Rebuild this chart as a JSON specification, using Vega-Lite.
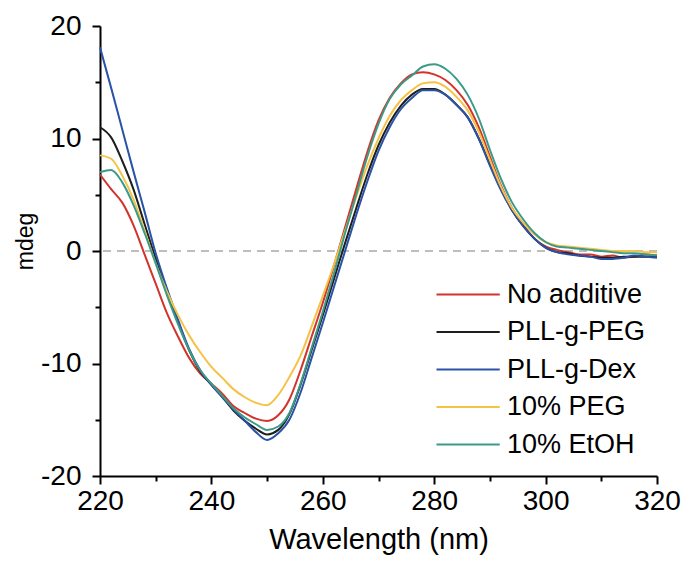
{
  "$schema": "https://vega.github.io/schema/vega-lite/v6.json",
  "width": 557,
  "height": 450,
  "autosize": {"type": "none"},
  "padding": {"left": 100, "top": 26, "right": 29, "bottom": 85},
  "background": "white",
  "config": {
    "view": {"stroke": null},
    "font": "Liberation Sans",
    "axis": {
      "grid": false,
      "domainColor": "black",
      "domainWidth": 2,
      "tickColor": "black",
      "tickWidth": 2,
      "labelFont": "Liberation Sans",
      "labelFontSize": 28,
      "labelColor": "black",
      "labelFlush": false,
      "titleFont": "Liberation Sans",
      "titleFontSize": 29,
      "titleFontWeight": "normal",
      "titleColor": "black"
    }
  },
  "datasets": {
    "cd": [
      {"series":"No additive","nm":220,"mdeg":6.8},{"series":"No additive","nm":222,"mdeg":5.5},{"series":"No additive","nm":224,"mdeg":4.3},{"series":"No additive","nm":226,"mdeg":2.3},{"series":"No additive","nm":228,"mdeg":-0.3},{"series":"No additive","nm":230,"mdeg":-2.9},{"series":"No additive","nm":232,"mdeg":-5.5},{"series":"No additive","nm":234,"mdeg":-7.6},{"series":"No additive","nm":236,"mdeg":-9.5},{"series":"No additive","nm":238,"mdeg":-10.9},{"series":"No additive","nm":240,"mdeg":-11.8},{"series":"No additive","nm":242,"mdeg":-12.7},{"series":"No additive","nm":244,"mdeg":-13.8},{"series":"No additive","nm":246,"mdeg":-14.4},{"series":"No additive","nm":248,"mdeg":-14.9},{"series":"No additive","nm":250,"mdeg":-15.1},{"series":"No additive","nm":252,"mdeg":-14.6},{"series":"No additive","nm":254,"mdeg":-13.2},{"series":"No additive","nm":256,"mdeg":-10.6},{"series":"No additive","nm":258,"mdeg":-7.6},{"series":"No additive","nm":260,"mdeg":-4.6},{"series":"No additive","nm":262,"mdeg":-1.3},{"series":"No additive","nm":264,"mdeg":2.1},{"series":"No additive","nm":266,"mdeg":5.5},{"series":"No additive","nm":268,"mdeg":8.8},{"series":"No additive","nm":270,"mdeg":11.6},{"series":"No additive","nm":272,"mdeg":13.6},{"series":"No additive","nm":274,"mdeg":14.9},{"series":"No additive","nm":276,"mdeg":15.7},{"series":"No additive","nm":278,"mdeg":15.9},{"series":"No additive","nm":280,"mdeg":15.7},{"series":"No additive","nm":282,"mdeg":15.2},{"series":"No additive","nm":284,"mdeg":14.3},{"series":"No additive","nm":286,"mdeg":13.0},{"series":"No additive","nm":288,"mdeg":11.0},{"series":"No additive","nm":290,"mdeg":8.4},{"series":"No additive","nm":292,"mdeg":5.8},{"series":"No additive","nm":294,"mdeg":3.8},{"series":"No additive","nm":296,"mdeg":2.3},{"series":"No additive","nm":298,"mdeg":1.1},{"series":"No additive","nm":300,"mdeg":0.4},{"series":"No additive","nm":302,"mdeg":0.1},{"series":"No additive","nm":304,"mdeg":-0.1},{"series":"No additive","nm":306,"mdeg":-0.3},{"series":"No additive","nm":308,"mdeg":-0.3},{"series":"No additive","nm":310,"mdeg":-0.5},{"series":"No additive","nm":312,"mdeg":-0.4},{"series":"No additive","nm":314,"mdeg":-0.6},{"series":"No additive","nm":316,"mdeg":-0.5},{"series":"No additive","nm":318,"mdeg":-0.3},{"series":"No additive","nm":320,"mdeg":-0.4},
      {"series":"PLL-g-PEG","nm":220,"mdeg":11.0},{"series":"PLL-g-PEG","nm":222,"mdeg":10.1},{"series":"PLL-g-PEG","nm":224,"mdeg":8.0},{"series":"PLL-g-PEG","nm":226,"mdeg":5.5},{"series":"PLL-g-PEG","nm":228,"mdeg":2.4},{"series":"PLL-g-PEG","nm":230,"mdeg":-0.7},{"series":"PLL-g-PEG","nm":232,"mdeg":-3.6},{"series":"PLL-g-PEG","nm":234,"mdeg":-6.3},{"series":"PLL-g-PEG","nm":236,"mdeg":-8.8},{"series":"PLL-g-PEG","nm":238,"mdeg":-10.7},{"series":"PLL-g-PEG","nm":240,"mdeg":-11.9},{"series":"PLL-g-PEG","nm":242,"mdeg":-13.0},{"series":"PLL-g-PEG","nm":244,"mdeg":-14.2},{"series":"PLL-g-PEG","nm":246,"mdeg":-15.1},{"series":"PLL-g-PEG","nm":248,"mdeg":-15.8},{"series":"PLL-g-PEG","nm":250,"mdeg":-16.3},{"series":"PLL-g-PEG","nm":252,"mdeg":-15.9},{"series":"PLL-g-PEG","nm":254,"mdeg":-14.5},{"series":"PLL-g-PEG","nm":256,"mdeg":-11.9},{"series":"PLL-g-PEG","nm":258,"mdeg":-8.8},{"series":"PLL-g-PEG","nm":260,"mdeg":-5.7},{"series":"PLL-g-PEG","nm":262,"mdeg":-2.5},{"series":"PLL-g-PEG","nm":264,"mdeg":0.7},{"series":"PLL-g-PEG","nm":266,"mdeg":3.8},{"series":"PLL-g-PEG","nm":268,"mdeg":6.8},{"series":"PLL-g-PEG","nm":270,"mdeg":9.4},{"series":"PLL-g-PEG","nm":272,"mdeg":11.4},{"series":"PLL-g-PEG","nm":274,"mdeg":12.9},{"series":"PLL-g-PEG","nm":276,"mdeg":13.9},{"series":"PLL-g-PEG","nm":278,"mdeg":14.4},{"series":"PLL-g-PEG","nm":280,"mdeg":14.4},{"series":"PLL-g-PEG","nm":282,"mdeg":13.9},{"series":"PLL-g-PEG","nm":284,"mdeg":13.0},{"series":"PLL-g-PEG","nm":286,"mdeg":11.9},{"series":"PLL-g-PEG","nm":288,"mdeg":10.0},{"series":"PLL-g-PEG","nm":290,"mdeg":7.7},{"series":"PLL-g-PEG","nm":292,"mdeg":5.5},{"series":"PLL-g-PEG","nm":294,"mdeg":3.6},{"series":"PLL-g-PEG","nm":296,"mdeg":2.2},{"series":"PLL-g-PEG","nm":298,"mdeg":1.1},{"series":"PLL-g-PEG","nm":300,"mdeg":0.3},{"series":"PLL-g-PEG","nm":302,"mdeg":-0.1},{"series":"PLL-g-PEG","nm":304,"mdeg":-0.2},{"series":"PLL-g-PEG","nm":306,"mdeg":-0.4},{"series":"PLL-g-PEG","nm":308,"mdeg":-0.5},{"series":"PLL-g-PEG","nm":310,"mdeg":-0.6},{"series":"PLL-g-PEG","nm":312,"mdeg":-0.6},{"series":"PLL-g-PEG","nm":314,"mdeg":-0.5},{"series":"PLL-g-PEG","nm":316,"mdeg":-0.5},{"series":"PLL-g-PEG","nm":318,"mdeg":-0.5},{"series":"PLL-g-PEG","nm":320,"mdeg":-0.5},
      {"series":"PLL-g-Dex","nm":220,"mdeg":18.1},{"series":"PLL-g-Dex","nm":222,"mdeg":14.5},{"series":"PLL-g-Dex","nm":224,"mdeg":10.8},{"series":"PLL-g-Dex","nm":226,"mdeg":7.1},{"series":"PLL-g-Dex","nm":228,"mdeg":3.5},{"series":"PLL-g-Dex","nm":230,"mdeg":-0.2},{"series":"PLL-g-Dex","nm":232,"mdeg":-3.3},{"series":"PLL-g-Dex","nm":234,"mdeg":-6.1},{"series":"PLL-g-Dex","nm":236,"mdeg":-8.7},{"series":"PLL-g-Dex","nm":238,"mdeg":-10.6},{"series":"PLL-g-Dex","nm":240,"mdeg":-11.9},{"series":"PLL-g-Dex","nm":242,"mdeg":-13.0},{"series":"PLL-g-Dex","nm":244,"mdeg":-14.1},{"series":"PLL-g-Dex","nm":246,"mdeg":-15.1},{"series":"PLL-g-Dex","nm":248,"mdeg":-16.1},{"series":"PLL-g-Dex","nm":250,"mdeg":-16.8},{"series":"PLL-g-Dex","nm":252,"mdeg":-16.2},{"series":"PLL-g-Dex","nm":254,"mdeg":-15.0},{"series":"PLL-g-Dex","nm":256,"mdeg":-12.6},{"series":"PLL-g-Dex","nm":258,"mdeg":-9.5},{"series":"PLL-g-Dex","nm":260,"mdeg":-6.4},{"series":"PLL-g-Dex","nm":262,"mdeg":-3.2},{"series":"PLL-g-Dex","nm":264,"mdeg":0.0},{"series":"PLL-g-Dex","nm":266,"mdeg":3.2},{"series":"PLL-g-Dex","nm":268,"mdeg":6.2},{"series":"PLL-g-Dex","nm":270,"mdeg":8.9},{"series":"PLL-g-Dex","nm":272,"mdeg":11.0},{"series":"PLL-g-Dex","nm":274,"mdeg":12.6},{"series":"PLL-g-Dex","nm":276,"mdeg":13.6},{"series":"PLL-g-Dex","nm":278,"mdeg":14.3},{"series":"PLL-g-Dex","nm":280,"mdeg":14.3},{"series":"PLL-g-Dex","nm":282,"mdeg":13.9},{"series":"PLL-g-Dex","nm":284,"mdeg":13.0},{"series":"PLL-g-Dex","nm":286,"mdeg":11.9},{"series":"PLL-g-Dex","nm":288,"mdeg":10.0},{"series":"PLL-g-Dex","nm":290,"mdeg":7.6},{"series":"PLL-g-Dex","nm":292,"mdeg":5.4},{"series":"PLL-g-Dex","nm":294,"mdeg":3.6},{"series":"PLL-g-Dex","nm":296,"mdeg":2.2},{"series":"PLL-g-Dex","nm":298,"mdeg":1.1},{"series":"PLL-g-Dex","nm":300,"mdeg":0.3},{"series":"PLL-g-Dex","nm":302,"mdeg":-0.1},{"series":"PLL-g-Dex","nm":304,"mdeg":-0.3},{"series":"PLL-g-Dex","nm":306,"mdeg":-0.4},{"series":"PLL-g-Dex","nm":308,"mdeg":-0.5},{"series":"PLL-g-Dex","nm":310,"mdeg":-0.7},{"series":"PLL-g-Dex","nm":312,"mdeg":-0.7},{"series":"PLL-g-Dex","nm":314,"mdeg":-0.6},{"series":"PLL-g-Dex","nm":316,"mdeg":-0.4},{"series":"PLL-g-Dex","nm":318,"mdeg":-0.5},{"series":"PLL-g-Dex","nm":320,"mdeg":-0.6},
      {"series":"10% PEG","nm":220,"mdeg":8.5},{"series":"10% PEG","nm":222,"mdeg":8.2},{"series":"10% PEG","nm":224,"mdeg":6.7},{"series":"10% PEG","nm":226,"mdeg":4.6},{"series":"10% PEG","nm":228,"mdeg":1.8},{"series":"10% PEG","nm":230,"mdeg":-1.1},{"series":"10% PEG","nm":232,"mdeg":-3.6},{"series":"10% PEG","nm":234,"mdeg":-5.7},{"series":"10% PEG","nm":236,"mdeg":-7.5},{"series":"10% PEG","nm":238,"mdeg":-9.0},{"series":"10% PEG","nm":240,"mdeg":-10.3},{"series":"10% PEG","nm":242,"mdeg":-11.3},{"series":"10% PEG","nm":244,"mdeg":-12.3},{"series":"10% PEG","nm":246,"mdeg":-13.0},{"series":"10% PEG","nm":248,"mdeg":-13.5},{"series":"10% PEG","nm":250,"mdeg":-13.7},{"series":"10% PEG","nm":252,"mdeg":-12.8},{"series":"10% PEG","nm":254,"mdeg":-11.2},{"series":"10% PEG","nm":256,"mdeg":-9.3},{"series":"10% PEG","nm":258,"mdeg":-6.7},{"series":"10% PEG","nm":260,"mdeg":-4.0},{"series":"10% PEG","nm":262,"mdeg":-1.2},{"series":"10% PEG","nm":264,"mdeg":1.8},{"series":"10% PEG","nm":266,"mdeg":4.8},{"series":"10% PEG","nm":268,"mdeg":7.6},{"series":"10% PEG","nm":270,"mdeg":10.0},{"series":"10% PEG","nm":272,"mdeg":12.0},{"series":"10% PEG","nm":274,"mdeg":13.4},{"series":"10% PEG","nm":276,"mdeg":14.3},{"series":"10% PEG","nm":278,"mdeg":14.9},{"series":"10% PEG","nm":280,"mdeg":15.0},{"series":"10% PEG","nm":282,"mdeg":14.6},{"series":"10% PEG","nm":284,"mdeg":13.7},{"series":"10% PEG","nm":286,"mdeg":12.5},{"series":"10% PEG","nm":288,"mdeg":10.6},{"series":"10% PEG","nm":290,"mdeg":8.1},{"series":"10% PEG","nm":292,"mdeg":5.7},{"series":"10% PEG","nm":294,"mdeg":3.8},{"series":"10% PEG","nm":296,"mdeg":2.5},{"series":"10% PEG","nm":298,"mdeg":1.5},{"series":"10% PEG","nm":300,"mdeg":0.8},{"series":"10% PEG","nm":302,"mdeg":0.5},{"series":"10% PEG","nm":304,"mdeg":0.4},{"series":"10% PEG","nm":306,"mdeg":0.3},{"series":"10% PEG","nm":308,"mdeg":0.2},{"series":"10% PEG","nm":310,"mdeg":0.1},{"series":"10% PEG","nm":312,"mdeg":0.0},{"series":"10% PEG","nm":314,"mdeg":0.0},{"series":"10% PEG","nm":316,"mdeg":0.0},{"series":"10% PEG","nm":318,"mdeg":-0.1},{"series":"10% PEG","nm":320,"mdeg":-0.1},
      {"series":"10% EtOH","nm":220,"mdeg":7.0},{"series":"10% EtOH","nm":222,"mdeg":7.2},{"series":"10% EtOH","nm":224,"mdeg":6.1},{"series":"10% EtOH","nm":226,"mdeg":4.1},{"series":"10% EtOH","nm":228,"mdeg":1.6},{"series":"10% EtOH","nm":230,"mdeg":-1.1},{"series":"10% EtOH","nm":232,"mdeg":-3.9},{"series":"10% EtOH","nm":234,"mdeg":-6.5},{"series":"10% EtOH","nm":236,"mdeg":-8.8},{"series":"10% EtOH","nm":238,"mdeg":-10.6},{"series":"10% EtOH","nm":240,"mdeg":-11.8},{"series":"10% EtOH","nm":242,"mdeg":-12.9},{"series":"10% EtOH","nm":244,"mdeg":-14.0},{"series":"10% EtOH","nm":246,"mdeg":-14.8},{"series":"10% EtOH","nm":248,"mdeg":-15.4},{"series":"10% EtOH","nm":250,"mdeg":-15.9},{"series":"10% EtOH","nm":252,"mdeg":-15.6},{"series":"10% EtOH","nm":254,"mdeg":-14.4},{"series":"10% EtOH","nm":256,"mdeg":-11.8},{"series":"10% EtOH","nm":258,"mdeg":-8.6},{"series":"10% EtOH","nm":260,"mdeg":-5.4},{"series":"10% EtOH","nm":262,"mdeg":-2.0},{"series":"10% EtOH","nm":264,"mdeg":1.6},{"series":"10% EtOH","nm":266,"mdeg":5.0},{"series":"10% EtOH","nm":268,"mdeg":8.4},{"series":"10% EtOH","nm":270,"mdeg":11.3},{"series":"10% EtOH","nm":272,"mdeg":13.5},{"series":"10% EtOH","nm":274,"mdeg":14.8},{"series":"10% EtOH","nm":276,"mdeg":15.6},{"series":"10% EtOH","nm":278,"mdeg":16.4},{"series":"10% EtOH","nm":280,"mdeg":16.6},{"series":"10% EtOH","nm":282,"mdeg":16.2},{"series":"10% EtOH","nm":284,"mdeg":15.3},{"series":"10% EtOH","nm":286,"mdeg":13.9},{"series":"10% EtOH","nm":288,"mdeg":11.8},{"series":"10% EtOH","nm":290,"mdeg":9.0},{"series":"10% EtOH","nm":292,"mdeg":6.4},{"series":"10% EtOH","nm":294,"mdeg":4.3},{"series":"10% EtOH","nm":296,"mdeg":2.8},{"series":"10% EtOH","nm":298,"mdeg":1.6},{"series":"10% EtOH","nm":300,"mdeg":0.8},{"series":"10% EtOH","nm":302,"mdeg":0.4},{"series":"10% EtOH","nm":304,"mdeg":0.3},{"series":"10% EtOH","nm":306,"mdeg":0.2},{"series":"10% EtOH","nm":308,"mdeg":0.1},{"series":"10% EtOH","nm":310,"mdeg":0.0},{"series":"10% EtOH","nm":312,"mdeg":-0.1},{"series":"10% EtOH","nm":314,"mdeg":-0.2},{"series":"10% EtOH","nm":316,"mdeg":-0.2},{"series":"10% EtOH","nm":318,"mdeg":-0.3},{"series":"10% EtOH","nm":320,"mdeg":-0.4}
    ],
    "zero": [{"mdeg": 0}]
  },
  "layer": [
    {
      "data": {"name": "zero"},
      "mark": {"type": "rule", "stroke": "#bdbdbd", "strokeWidth": 2, "strokeDash": [8, 6]},
      "encoding": {
        "y": {"field": "mdeg", "type": "quantitative", "scale": {"domain": [-20, 20], "nice": false, "zero": false}}
      }
    },
    {
      "data": {"name": "cd"},
      "mark": {"type": "line", "strokeWidth": 2, "interpolate": "monotone"},
      "encoding": {
        "x": {
          "field": "nm", "type": "quantitative",
          "scale": {"domain": [220, 320], "nice": false, "zero": false},
          "axis": {
            "title": "Wavelength (nm)",
            "values": [220, 230, 240, 250, 260, 270, 280, 290, 300, 310, 320],
            "labelExpr": "datum.value % 20 === 0 ? datum.label : ''",
            "tickSize": {"condition": {"test": "datum.value % 20 === 0", "value": 8}, "value": 5},
            "labelPadding": 3,
            "titlePadding": 10
          }
        },
        "y": {
          "field": "mdeg", "type": "quantitative",
          "scale": {"domain": [-20, 20], "nice": false, "zero": false},
          "axis": {
            "title": "mdeg",
            "titleFontSize": 23,
            "titleY": 215,
            "values": [-20, -15, -10, -5, 0, 5, 10, 15, 20],
            "labelExpr": "datum.value % 10 === 0 ? (datum.value < 0 ? '-' + abs(datum.value) : '' + datum.value) : ''",
            "tickSize": {"condition": {"test": "datum.value % 10 === 0", "value": 8}, "value": 5},
            "labelPadding": 11,
            "titlePadding": 3
          }
        },
        "color": {
          "field": "series", "type": "nominal",
          "sort": ["No additive", "PLL-g-PEG", "PLL-g-Dex", "10% PEG", "10% EtOH"],
          "scale": {
            "domain": ["No additive", "PLL-g-PEG", "PLL-g-Dex", "10% PEG", "10% EtOH"],
            "range": ["#d2342c", "#1e1e1e", "#2a52a6", "#f5c244", "#3c9a88"]
          },
          "legend": {
            "title": null,
            "orient": "none",
            "legendX": 323,
            "legendY": 255,
            "padding": 0,
            "labelFontSize": 27,
            "labelFont": "Liberation Sans",
            "labelColor": "black",
            "labelLimit": 400,
            "labelOffset": 57,
            "symbolType": "M0,0H10",
            "symbolSize": 160,
            "symbolStrokeWidth": 2,
            "rowPadding": 9.5
          }
        }
      }
    }
  ]
}
